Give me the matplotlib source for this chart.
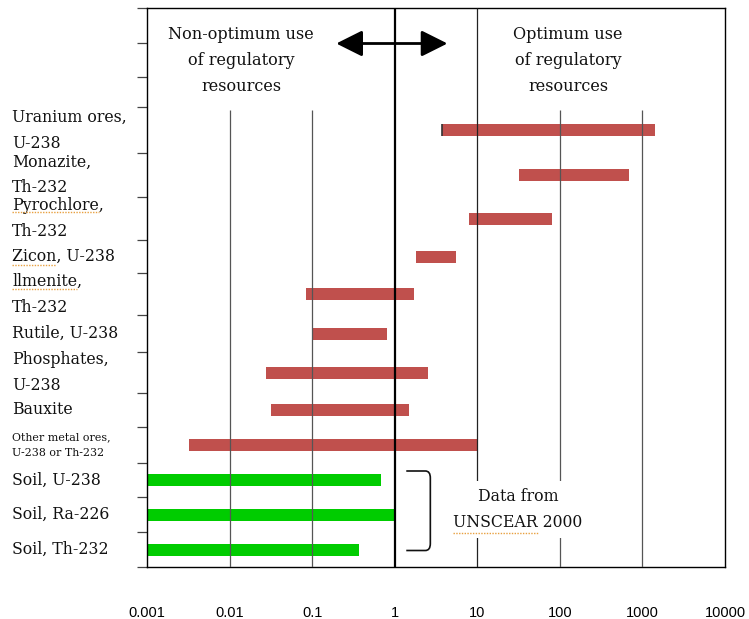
import numpy as np
import matplotlib
matplotlib.use("Agg")
import matplotlib.pyplot as plt
from matplotlib.path import Path
from matplotlib.patches import PathPatch, FancyArrowPatch
from matplotlib.lines import Line2D
from matplotlib.ticker import NullLocator
from matplotlib.transforms import blended_transform_factory

# --- data -------------------------------------------------------------------
categories = [
    "Uranium ores,\nU-238",
    "Monazite,\nTh-232",
    "Pyrochlore,\nTh-232",
    "Zicon, U-238",
    "llmenite,\nTh-232",
    "Rutile, U-238",
    "Phosphates,\nU-238",
    "Bauxite",
    "Other metal ores,\nU-238 or Th-232",
    "Soil, U-238",
    "Soil, Ra-226",
    "Soil, Th-232",
]
range_low = [3.7, 32, 8, 1.8, 0.085, 0.1, 0.028, 0.032, 0.0032, 0.001, 0.001, 0.001]
range_high = [1430, 680, 80, 5.6, 1.7, 0.8, 2.5, 1.47, 10, 0.69, 1.0, 0.37]
source = ["ore"] * 9 + ["soil"] * 3

x_ticks = [0.001, 0.01, 0.1, 1, 10, 100, 1000, 10000]
x_tick_labels = ["0.001", "0.01", "0.1", "1", "10", "100", "1000", "10000"]

left_note = "Non-optimum use\nof regulatory\nresources"
right_note = "Optimum use\nof regulatory\nresources"
data_note = "Data from\nUNSCEAR 2000"

# words flagged with a proofing squiggle
flagged_words = ["Pyrochlore", "Zicon", "llmenite"]

# --- layout -----------------------------------------------------------------
header_rows = [35, 34, 30]
row_heights = [46, 44, 43, 33, 42, 37, 41, 34, 36, 34, 35, 35]
bounds = np.cumsum([0] + header_rows + row_heights)
n_head = len(header_rows)
row_top = bounds[n_head:-1]
row_bot = bounds[n_head + 1:]
centers = (row_top + row_bot) / 2.0
y_total = bounds[-1]
header_end = bounds[n_head] + 3

colors = {"ore": "#C0504D", "soil": "#00CC00"}
serif = "DejaVu Serif"
squiggle = "#E8A040"

fig = plt.figure(figsize=(7.49, 6.19), dpi=100)
ax = fig.add_axes([147 / 749, 1 - 567 / 619, 578 / 749, 559 / 619])
ax.set_xscale("log")
ax.set_xlim(x_ticks[0], x_ticks[-1])
ax.set_ylim(y_total, 0)

# range bars
low = np.array(range_low)
high = np.array(range_high)
ax.barh(centers, high - low, left=low, height=12,
        color=[colors[s] for s in source], zorder=2)
ax.vlines(low[0], centers[0] - 6, centers[0] + 6, color="#333333", lw=1.2, zorder=3)

# decade lines
for v in x_ticks[1:-1]:
    if v == 1:
        ax.vlines(v, 0, y_total, color="black", lw=1.6, zorder=4)
    elif v == 10:
        ax.vlines(v, 0, y_total, color="#222222", lw=0.9, zorder=4)
    else:
        ax.vlines(v, header_end, y_total, color="#555555", lw=0.9, zorder=4)

for sp in ax.spines.values():
    sp.set_color("black")
    sp.set_linewidth(1.0)

# axes ticks
ax.set_xticks(x_ticks)
ax.set_xticklabels(x_tick_labels, fontsize=10.5, family="Liberation Sans")
ax.xaxis.set_minor_locator(NullLocator())
ax.tick_params(axis="x", length=0, pad=28)
ax.set_yticks(bounds)
ax.set_yticklabels([])
ax.tick_params(axis="y", direction="out", length=7, width=0.9, color="#444444")

# category labels, one text per line
lab_tr = blended_transform_factory(fig.transFigure, ax.transData)
line_texts = []
for name, yc in zip(categories, centers):
    small = name.startswith("Other")
    lines = name.split("\n")
    gap = 15.6 if small else 26
    offs = (np.arange(len(lines)) - (len(lines) - 1) / 2.0) * gap
    for line, dy in zip(lines, offs):
        t = ax.text(12 / 749, yc + dy, line, transform=lab_tr, ha="left",
                    va="center", fontsize=7.9 if small else 11.3, family=serif,
                    color="#111111")
        line_texts.append(t)

# header notes and arrow
hdr_tr = blended_transform_factory(ax.transAxes, ax.transData)
ax.text((241 - 147) / 578, 52.5, left_note, transform=hdr_tr, ha="center", va="center",
        fontsize=11.6, family=serif, linespacing=1.7, color="#111111")
ax.text((568 - 147) / 578, 52.5, right_note, transform=hdr_tr, ha="center", va="center",
        fontsize=11.6, family=serif, linespacing=1.7, color="#111111")
arrow = FancyArrowPatch((0.196, 35.5), (4.35, 35.5),
                        arrowstyle="<|-|>,head_length=1.0,head_width=0.5",
                        mutation_scale=16, lw=2.0, color="black",
                        shrinkA=0, shrinkB=0, zorder=5)
ax.add_patch(arrow)

# bracket around the soil rows and its note
y0, y1 = centers[-3] - 9, centers[-1] + 1
xa, xb, xc = 1.38, 2.35, 2.7
verts = [(xa, y0), (xb, y0), (xc, y0), (xc, y0 + 7), (xc, y1 - 7),
         (xc, y1), (xb, y1), (xa, y1)]
codes = [Path.MOVETO, Path.LINETO, Path.CURVE3, Path.CURVE3, Path.LINETO,
         Path.CURVE3, Path.CURVE3, Path.LINETO]
ax.add_patch(PathPatch(Path(verts, codes), fill=False, lw=1.2,
                       edgecolor="#111111", zorder=5))
note = ax.text((518 - 147) / 578, 501.5, data_note, transform=hdr_tr, ha="center",
               va="center", fontsize=11.3, family=serif, linespacing=1.72,
               color="#111111", zorder=6,
               bbox=dict(boxstyle="square,pad=0.45", fc="white", ec="none"))

# proofing squiggles under flagged words
fig.canvas.draw()
renderer = fig.canvas.get_renderer()


def underline(x0, y_base, word, fp):
    w, _, _ = renderer.get_text_width_height_descent(word, fp, ismath=False)
    fig.add_artist(Line2D([x0, x0 + w], [y_base, y_base], transform=None,
                          color=squiggle, lw=1.0, ls=(0, (1, 1)), zorder=7))


for t in line_texts:
    first = t.get_text().split(",")[0].split(" ")[0]
    if first in flagged_words:
        bb = t.get_window_extent(renderer)
        fp = t.get_fontproperties()
        _, _, d = renderer.get_text_width_height_descent(t.get_text(), fp, ismath=False)
        underline(bb.x0, bb.y0 + d - 2, first, fp)

# squiggle under "UNSCEAR" on the second note line
fp = note.get_fontproperties()
nb = note.get_window_extent(renderer)
w_line, _, d = renderer.get_text_width_height_descent("UNSCEAR 2000", fp, ismath=False)
x_line = (nb.x0 + nb.x1) / 2 - w_line / 2
underline(x_line, nb.y0 + d - 2, "UNSCEAR", fp)

fig.savefig("out.png", dpi=100)
